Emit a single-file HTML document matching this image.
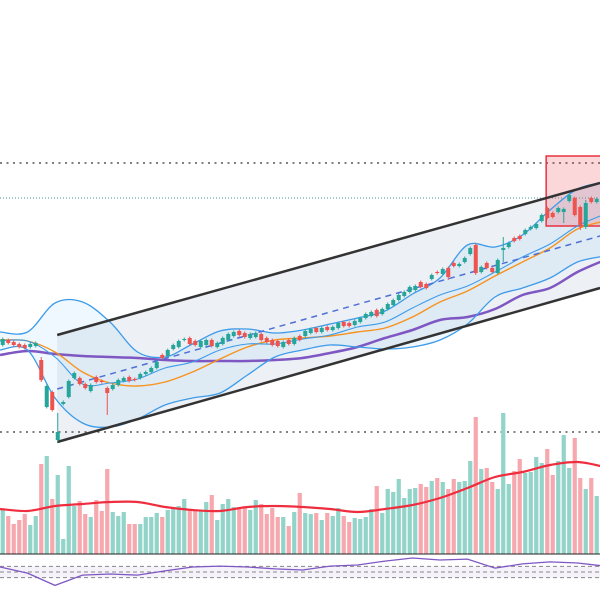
<!DOCTYPE html>
<html><head><meta charset="utf-8"><style>
html,body{margin:0;padding:0;background:#fff;width:600px;height:600px;overflow:hidden;font-family:"Liberation Sans",sans-serif}
svg{display:block}
</style></head><body>
<svg id="chart" width="600" height="600" viewBox="0 0 600 600" xmlns="http://www.w3.org/2000/svg">
<g id="bg"></g>
<g id="main"></g>
<g id="vol"></g>
<g id="rsi"></g>
</svg>
<script>
// ---- data ----
const opens = [255,260,258,256,255,253,254,240,193,208,160,196,203,222,222,216,209,223,219,212,211,215,219,223,221,222,226,228,232,245,244,251,253,260,262,259,253,255,260,253,256,260,264,269,267,262,263,266,262,260,259,253,260,256,264,264,267,272,268,273,270,272,278,277,275,278,282,284,290,286,291,295,300,304,308,310,318,316,321,328,326,332,337,334,338,346,355,328,337,332,327,350,353,362,364,366,371,372,379,392,387,388,388,399,402,393,373,402,398];
const closes = [261,257,255,253,252,256,257,220,214,190,168,198,219,227,216,212,215,218,218,207,215,220,222,219,220,226,228,232,238,242,250,255,259,261,256,255,259,260,254,257,262,266,268,265,263,266,267,260,258,255,254,258,256,262,260,269,271,268,272,270,273,277,274,274,279,282,286,288,284,291,296,300,305,308,313,314,313,312,325,327,331,323,334,336,342,352,327,333,332,328,340,352,357,359,361,370,373,376,385,382,383,392,391,405,385,375,397,398,401];
const wickHighIdx = [7,10,86,91,106];
const wickHighVal = [243,187,357,363,400];
const wickLowIdx = [7,10,19,81,86,91,102,105,106];
const wickLowVal = [218,158,185,320,325,338,377,370,371];
const volumes = [44,38,30,34,40,29,38,90,98,55,79,15,88,48,53,40,37,54,43,85,42,38,42,30,30,30,37,37,41,37,44,46,48,55,44,44,44,52,59,34,50,55,47,47,46,44,54,50,40,46,37,37,28,42,61,41,40,41,34,41,38,46,38,32,36,35,37,45,68,41,65,62,75,56,65,66,70,67,73,76,72,65,75,72,73,93,137,85,86,72,65,141,70,83,95,81,82,97,91,105,79,93,119,86,116,76,65,76,58];
// indicator samples every 5 bars (t = 0,5,10,...,110)
const bbUpper = [268,268,297,298,278,248,243,256,269,271,267,270,276,282,289,306,322,355,353,365,390,411,418];
const bbLower = [250,250,202,177,173,181,195,202,207,225,243,250,255,253,251,253,260,276,303,312,322,338,344];
const bbMiddle = [259,259,243,216,217,221,232,238,250,256,256,261,265,273,278,292,305,314,328,343,356,374,386];
const maOrange = [260,259,248,228,217,214,218,228,241,253,260,262,264,268,272,283,298,309,324,338,352,371,379];
const maPurple = [245,249,246,244,243,242,240,239,239,239,240,242,247,253,262,270,280,283,291,305,312,328,340];
const volMA = [45,43,48,50,52,52,47,44,43,47,48,47,45,42,45,49,56,66,77,82,89,92,87];
const rsiVals = [68,46,2,39,43,39,54,68,71,68,61,57,71,75,89,100,93,96,64,79,86,82,71];
const rsiLevels = [70,50,30];
const hLevels = [437,402,168]; // horizontal price levels
const channelUpper = [10.4,265,109.1,417];
const channelLower = [10.4,158,109.1,312];
const channelMid = [10.4,211,109.1,364];
const zoneBox = [99.3,444,112,374];

// ---- scales ----
const BAR = 5.5;
const xT = t => t * BAR;
const xBar = i => (i + 0.5) * BAR;
const yP = p => 600 - p;
const yV = v => 554 - v;
const yR = v => 586 - 0.28 * v;
const NS = 'http://www.w3.org/2000/svg';
function mk(tag, parent, attrs){const e=document.createElementNS(NS,tag);for(const k in attrs)e.setAttribute(k,attrs[k]);parent.appendChild(e);return e;}
const main=document.getElementById('main'), vol=document.getElementById('vol'), rsi=document.getElementById('rsi');
const sampT = bbUpper.map((_,k)=>k*5);
const xy = (arr, yf) => arr.map((v,k)=>[xT(sampT[k]), yf(v)]);
function smooth(P){
  let d = 'M'+P[0][0].toFixed(1)+','+P[0][1].toFixed(1);
  for(let i=0;i<P.length-1;i++){
    const p0=P[Math.max(0,i-1)], p1=P[i], p2=P[i+1], p3=P[Math.min(P.length-1,i+2)];
    const c1=[p1[0]+(p2[0]-p0[0])/6, p1[1]+(p2[1]-p0[1])/6];
    const c2=[p2[0]-(p3[0]-p1[0])/6, p2[1]-(p3[1]-p1[1])/6];
    d += ' C'+c1.map(v=>v.toFixed(1)).join(',')+' '+c2.map(v=>v.toFixed(1)).join(',')+' '+p2.map(v=>v.toFixed(1)).join(',');
  }
  return d;
}

// channel fill
let ch = mk('polygon', main, {points:`${xT(channelUpper[0])},${yP(channelUpper[1])} ${xT(channelUpper[2])},${yP(channelUpper[3])} ${xT(channelLower[2])},${yP(channelLower[3])} ${xT(channelLower[0])},${yP(channelLower[1])}`, fill:'#edf0f5'});


// bollinger fill
const upP = xy(bbUpper,yP), loP = xy(bbLower,yP).reverse();
let bfd = smooth(upP) + ' L' + loP[0].join(',') + smooth(loP).replace(/^M[^C]*/,' ') + ' Z';
let bf = mk('path', main, {d: bfd, fill:'rgba(33,150,243,0.07)'});


// horizontal levels
const hStyles = [['#555','1.6','2 4.5'],['#4a9a9a','1','1 2'],['#555','1.6','2 4.5']];
hLevels.forEach((p,k)=>{
  const l = mk('line', main, {x1:0,x2:600,y1:yP(p),y2:yP(p),stroke:hStyles[k][0],'stroke-width':hStyles[k][1],'stroke-dasharray':hStyles[k][2]});
  
  
});
// zone box
let zb = mk('rect', main, {x:xT(zoneBox[0]),y:yP(zoneBox[1]),width:xT(zoneBox[2])-xT(zoneBox[0]),height:yP(zoneBox[3])-yP(zoneBox[1]),fill:'rgba(242,54,69,0.2)',stroke:'#e8323f','stroke-width':1.5});


// lines
function curve(parent, arr, yf, color, w, name){
  const e = mk('path', parent, {d:smooth(xy(arr,yf)),fill:'none',stroke:color,'stroke-width':w,'stroke-linejoin':'round'});
  
  
  return e;
}
curve(main, maPurple, yP, '#7e57c2', 2.5, 'ma-long-line');
curve(main, maOrange, yP, '#f7931e', 1.4, 'ma-orange-line');
curve(main, bbUpper, yP, '#3d9be9', 1.3, 'bollinger-upper');
curve(main, bbLower, yP, '#3d9be9', 1.3, 'bollinger-lower');
curve(main, bbMiddle, yP, '#3d9be9', 1.1, 'bollinger-middle');
// channel lines
let cm = mk('line', main, {x1:xT(channelMid[0]),y1:yP(channelMid[1]),x2:xT(channelMid[2]),y2:yP(channelMid[3]),stroke:'#4f6fd6','stroke-width':1.5,'stroke-dasharray':'6 5'});


[channelUpper, channelLower].forEach((c,k)=>{
  const l = mk('line', main, {x1:xT(c[0]),y1:yP(c[1]),x2:xT(c[2]),y2:yP(c[3]),stroke:'#333',"stroke-width":2.5});
  
  
});
// candles
opens.forEach((o,i)=>{
  const c = closes[i], up = c >= o, col = up ? '#26a69a' : '#ef5350';
  const hi0 = Math.max(o,c), lo0 = Math.min(o,c);
  const hk = wickHighIdx.indexOf(i), lk = wickLowIdx.indexOf(i);
  const hi = hk>=0 ? wickHighVal[hk] : hi0 + 1.5, lo = lk>=0 ? wickLowVal[lk] : lo0 - 1.5;
  const g = mk('g', main, {});
  
  
  mk('line', g, {x1:xBar(i),x2:xBar(i),y1:yP(hi),y2:yP(lo),stroke:col,'stroke-width':1});
  mk('rect', g, {x:xBar(i)-2,y:yP(hi0),width:4,height:Math.max(1,yP(lo0)-yP(hi0)),fill:col});
});
// volume
volumes.forEach((v,i)=>{
  const up = closes[i] >= opens[i];
  const r = mk('rect', vol, {x:xBar(i)-2.1,y:yV(v),width:4.2,height:v,fill: up ? '#92d3ca' : '#f7a8ae'});
  
  
});
curve(vol, volMA, yV, '#ee2e3f', 2.2, 'volume-ma-line');
let vb = mk('line', vol, {x1:0,x2:600,y1:yV(0),y2:yV(0),stroke:'#222','stroke-width':1});


// rsi
let rf = mk('rect', rsi, {x:0,y:yR(rsiLevels[0]),width:600,height:yR(rsiLevels[2])-yR(rsiLevels[0]),fill:'rgba(126,87,194,0.08)'});


rsiLevels.forEach(l=>{
  const e = mk('line', rsi, {x1:0,x2:600,y1:yR(l),y2:yR(l),stroke:'#888','stroke-width':1,'stroke-dasharray':'4 3'});
  
  
});
let rl = mk('polyline', rsi, {points:rsiVals.map((v,k)=>xT(sampT[k]).toFixed(1)+','+yR(v).toFixed(1)).join(' '),fill:'none',stroke:'#7e57c2','stroke-width':1.3});


</script>
</body></html>
